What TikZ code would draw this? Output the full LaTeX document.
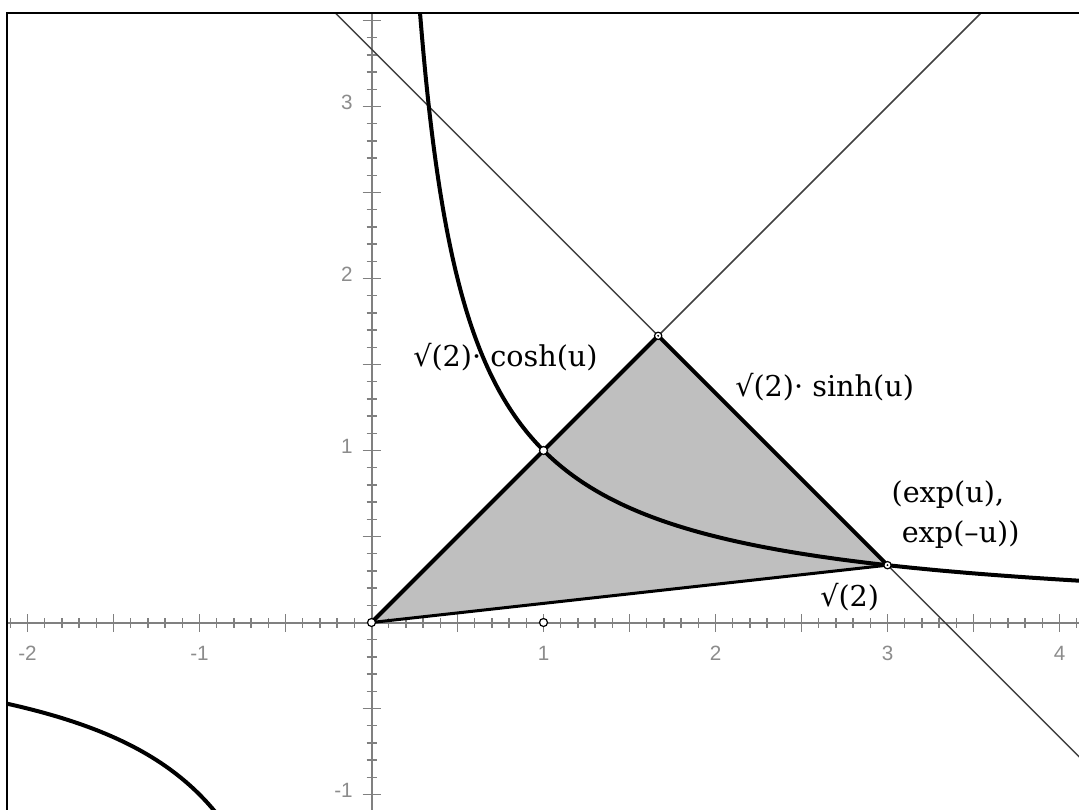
\documentclass[tikz,border=0pt]{standalone}
\usepackage{fontspec}
\setmainfont{DejaVu Serif}
\newfontfamily\ticksf{Liberation Sans}
\begin{document}
\begin{tikzpicture}[x=129pt,y=129pt,
  thinline/.style={black!75, line width=1.1pt},
  curve/.style={black, line width=3pt, line join=round},
  edge/.style={black, line width=3pt, line join=round, line cap=round},
  axisline/.style={black!50, line width=1.5pt},
  tickline/.style={black!50, line width=1.1pt},
  ticklab/.style={black!45, font=\ticksf\fontsize{15.5}{18}\selectfont, inner sep=0pt},
  lab/.style={font=\fontsize{21.5}{26}\selectfont, inner sep=0pt},
  openpt/.style={circle, draw=black, fill=white, line width=0.9pt, minimum size=6pt, inner sep=0pt},
]
\useasboundingbox (-2.1599,-1.0843) rectangle (4.1134,3.6192);
\fill[white] (-2.1599,-1.0843) rectangle (4.1134,3.6192);
\coordinate (O) at (0,0);
\coordinate (P) at (5/3,5/3);
\coordinate (Q) at (3,1/3);
\coordinate (A) at (1,1);
\coordinate (B) at (1,0);
\begin{scope}
\clip (-2.1163,-1.0843) rectangle (4.1134,3.5465);
\fill[black!25] (O) -- (P) -- (Q) -- cycle;
% axes
\draw[axisline] (-2.2,0) -- (4.2,0);
\draw[axisline] (0,-1.1) -- (0,3.6);
\foreach \i in {-21,...,41} {\draw[tickline] (\i/10,0) +(0,-3.75pt) -- +(0,3.75pt);}
\foreach \i in {-4,...,8} {\draw[tickline] (\i/2,0) +(0,-6.75pt) -- +(0,6.75pt);}
\foreach \i in {-10,...,35} {\draw[tickline] (0,\i/10) +(-3.75pt,0) -- +(3.75pt,0);}
\foreach \i in {-2,...,7} {\draw[tickline] (0,\i/2) +(-6.75pt,0) -- +(6.75pt,0);}
% thin lines
\draw[thinline] (O) -- (4.5,4.5);
\draw[thinline] (-0.5,10/3+0.5) -- (4.5,10/3-4.5);
% hyperbola
\draw[curve] plot[domain=-1.35:1.45, samples=200, smooth] ({exp(\x)},{exp(-\x)});
\draw[curve] plot[domain=-0.2:0.85, samples=100, smooth] ({-exp(\x)},{-exp(-\x)});
% triangle edges
\draw[edge] (O) -- (P) -- (Q);
\draw[black, line width=2.25pt, line cap=round] (O) -- (Q);
\end{scope}
% points
\node[openpt] (o) at (O) {};
\node[openpt] (b) at (B) {};
\node[openpt] (a) at (A) {};
\node[openpt, minimum size=5.5pt] (p) at (P) {};
\fill (P) circle (0.8pt);
\node[openpt, minimum size=5.5pt] (q) at (Q) {};
\fill (Q) circle (0.8pt);
% tick labels
\foreach \v in {-2,-1,1,2,3,4} {\node[ticklab, anchor=base] (xt\v) at (\v,-0.218) {\v};}
\foreach \v in {-1,1,2,3} {\node[ticklab, anchor=mid east] (yt\v) at (-0.1076,\v) {\v};}
% labels
\node[lab, anchor=base west] (lcosh) at (0.2413,1.4855) {√(2)· cosh(u)};
\node[lab, anchor=base west] (lsinh) at (2.1134,1.3128) {√(2)· sinh(u)};
\node[lab, anchor=base west] (le1) at (3.0221,0.6948) {(exp(u),};
\node[lab, anchor=base west] (le2) at (3.0814,0.4680) {exp(–u))};
\node[lab, anchor=base west] (lsq) at (2.6076,0.0959) {√(2)};
% frame
\draw[black, line width=1.5pt] (-2.1163,-1.2) -- (-2.1163,3.5465) -- (4.3,3.5465);
\end{tikzpicture}
\end{document}
